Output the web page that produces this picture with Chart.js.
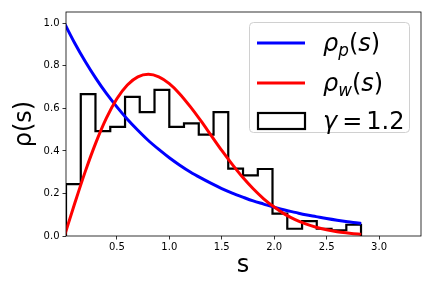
<!DOCTYPE html>
<html>
<head>
<meta charset="utf-8">
<script src="https://cdn.jsdelivr.net/npm/chart.js@4.4.0/dist/chart.umd.min.js"></script>
<style>
  html, body { margin: 0; padding: 0; background: #fff; }
</style>
</head>
<body>
<canvas id="chart" width="432" height="288"></canvas>
<script>
// ==============================
// DATA
// ==============================
const curveS = [0, 0.1, 0.2, 0.3, 0.4, 0.5, 0.6, 0.7, 0.8, 0.9, 1.0, 1.1, 1.2, 1.3, 1.4,
  1.5, 1.6, 1.7, 1.8, 1.9, 2.0, 2.1, 2.2, 2.3, 2.4, 2.5, 2.6, 2.7, 2.8, 2.83];
const poissonRho = [1.0, 0.905, 0.819, 0.741, 0.670, 0.607, 0.549, 0.497, 0.449, 0.407,
  0.368, 0.333, 0.301, 0.273, 0.247, 0.223, 0.202, 0.183, 0.165, 0.150, 0.135, 0.122,
  0.111, 0.100, 0.091, 0.082, 0.074, 0.067, 0.061, 0.059];
const wignerRho = [0, 0.156, 0.305, 0.439, 0.554, 0.645, 0.710, 0.748, 0.760, 0.748,
  0.716, 0.668, 0.608, 0.542, 0.472, 0.402, 0.337, 0.276, 0.222, 0.175, 0.136, 0.103,
  0.077, 0.057, 0.041, 0.029, 0.020, 0.014, 0.009, 0.008];
const binEdges = [0.015, 0.156, 0.296, 0.437, 0.578, 0.718, 0.859, 1.0, 1.14, 1.281,
  1.422, 1.562, 1.703, 1.844, 1.984, 2.125, 2.266, 2.406, 2.547, 2.688, 2.828];
const binHeights = [0.244, 0.667, 0.493, 0.513, 0.654, 0.582, 0.687, 0.513, 0.529, 0.477,
  0.582, 0.317, 0.285, 0.315, 0.105, 0.034, 0.070, 0.034, 0.027, 0.053];
const xTicks = [0.5, 1.0, 1.5, 2.0, 2.5, 3.0];
const yTicks = [0.0, 0.2, 0.4, 0.6, 0.8, 1.0];
const xLabel = "s";
const yLabel = "ρ(s)";

const FONT = "'DejaVu Sans', sans-serif";

// histogram outline (step, no bottom)
const histPoints = [{ x: binEdges[0], y: 0 }];
binHeights.forEach((h, i) => {
  histPoints.push({ x: binEdges[i], y: h });
  histPoints.push({ x: binEdges[i + 1], y: h });
});
histPoints.push({ x: binEdges[binEdges.length - 1], y: 0 });

const xy = (xs, ys) => xs.map((x, i) => ({ x, y: ys[i] }));

// draw a run of text pieces: [text, italic, sub] or a number = gap in px
function drawMath(ctx, x, y, pieces, size) {
  let cx = x;
  pieces.forEach(p => {
    if (typeof p === "number") { cx += p; return; }
    const [t, it, sub] = p;
    const fs = sub ? size * 0.7 : size;
    ctx.font = (it ? "italic " : "") + fs + "px " + FONT;
    ctx.fillText(t, cx, sub ? y + size * 0.22 : y);
    cx += ctx.measureText(t).width;
  });
}

const framePlugin = {
  id: "frame",
  afterDraw(chart) {
    const { ctx, chartArea: a } = chart;
    ctx.save();
    // spines
    ctx.strokeStyle = "#000";
    ctx.lineWidth = 0.8;
    ctx.strokeRect(a.left, a.top, a.right - a.left, a.bottom - a.top);

    // axis labels
    ctx.fillStyle = "#000";
    ctx.textAlign = "center";
    ctx.textBaseline = "middle";
    ctx.font = "24px " + FONT;
    ctx.fillText(xLabel, 243, 266);
    ctx.save();
    ctx.translate(25, 124);
    ctx.rotate(-Math.PI / 2);
    ctx.fillText(yLabel, 0, 0);
    ctx.restore();

    // legend
    const bx = 249.5, by = 22.5, bw = 160, bh = 110, r = 4;
    ctx.beginPath();
    ctx.roundRect(bx, by, bw, bh, r);
    ctx.fillStyle = "rgba(255,255,255,0.8)";
    ctx.fill();
    ctx.strokeStyle = "#d0d0d0";
    ctx.lineWidth = 1;
    ctx.stroke();

    ctx.lineWidth = 3;
    ctx.strokeStyle = "#0000ff";
    ctx.beginPath(); ctx.moveTo(257, 43); ctx.lineTo(305, 43); ctx.stroke();
    ctx.strokeStyle = "#ff0000";
    ctx.beginPath(); ctx.moveTo(257, 83); ctx.lineTo(305, 83); ctx.stroke();
    ctx.strokeStyle = "#000";
    ctx.lineWidth = 2.2;
    ctx.strokeRect(258, 113, 47, 16);

    ctx.fillStyle = "#000";
    ctx.textAlign = "left";
    ctx.textBaseline = "alphabetic";
    drawMath(ctx, 323, 51, [["ρ", 1], ["p", 1, 1], ["(", 0], ["s", 1], [")", 0]], 24);
    drawMath(ctx, 323, 91, [["ρ", 1], ["w", 1, 1], ["(", 0], ["s", 1], [")", 0]], 24);
    drawMath(ctx, 323, 129, [["γ", 1], 5, ["=", 0], 4, ["1.2", 0]], 24);
    ctx.restore();
  }
};

const ctx = document.getElementById("chart").getContext("2d");
new Chart(ctx, {
  type: "line",
  data: {
    datasets: [
      {
        label: "ρw(s)",
        data: xy(curveS, wignerRho),
        borderColor: "#ff0000",
        borderWidth: 3,
        pointRadius: 0,
        cubicInterpolationMode: "monotone",
        order: 0
      },
      {
        label: "ρp(s)",
        data: xy(curveS, poissonRho),
        borderColor: "#0000ff",
        borderWidth: 3,
        pointRadius: 0,
        cubicInterpolationMode: "monotone",
        order: 1
      },
      {
        label: "γ = 1.2",
        data: histPoints,
        borderColor: "#000000",
        borderWidth: 2.2,
        borderJoinStyle: "miter",
        pointRadius: 0,
        tension: 0,
        order: 2
      }
    ]
  },
  options: {
    responsive: false,
    animation: false,
    devicePixelRatio: 1,
    layout: { padding: { left: 0, right: 11, top: 12, bottom: 0 } },
    plugins: { legend: { display: false }, tooltip: { enabled: false } },
    scales: {
      x: {
        type: "linear",
        min: 0.015,
        max: 3.4,
        afterBuildTicks: s => { s.ticks = xTicks.map(v => ({ value: v })); },
        afterFit: s => { s.height = 52; },
        grid: { drawOnChartArea: false, tickLength: 3.5, color: "#000", tickWidth: 0.8 },
        border: { display: false },
        ticks: {
          color: "#000", padding: 2,
          font: { family: FONT, size: 10 },
          callback: v => v.toFixed(1)
        }
      },
      y: {
        type: "linear",
        min: 0,
        max: 1.053,
        afterBuildTicks: s => { s.ticks = yTicks.map(v => ({ value: v })); },
        afterFit: s => { s.width = 66; },
        grid: { drawOnChartArea: false, tickLength: 3.5, color: "#000", tickWidth: 0.8 },
        border: { display: false },
        ticks: {
          color: "#000", padding: 3,
          font: { family: FONT, size: 10 },
          callback: v => v.toFixed(1)
        }
      }
    }
  },
  plugins: [framePlugin]
});
</script>
</body>
</html>
